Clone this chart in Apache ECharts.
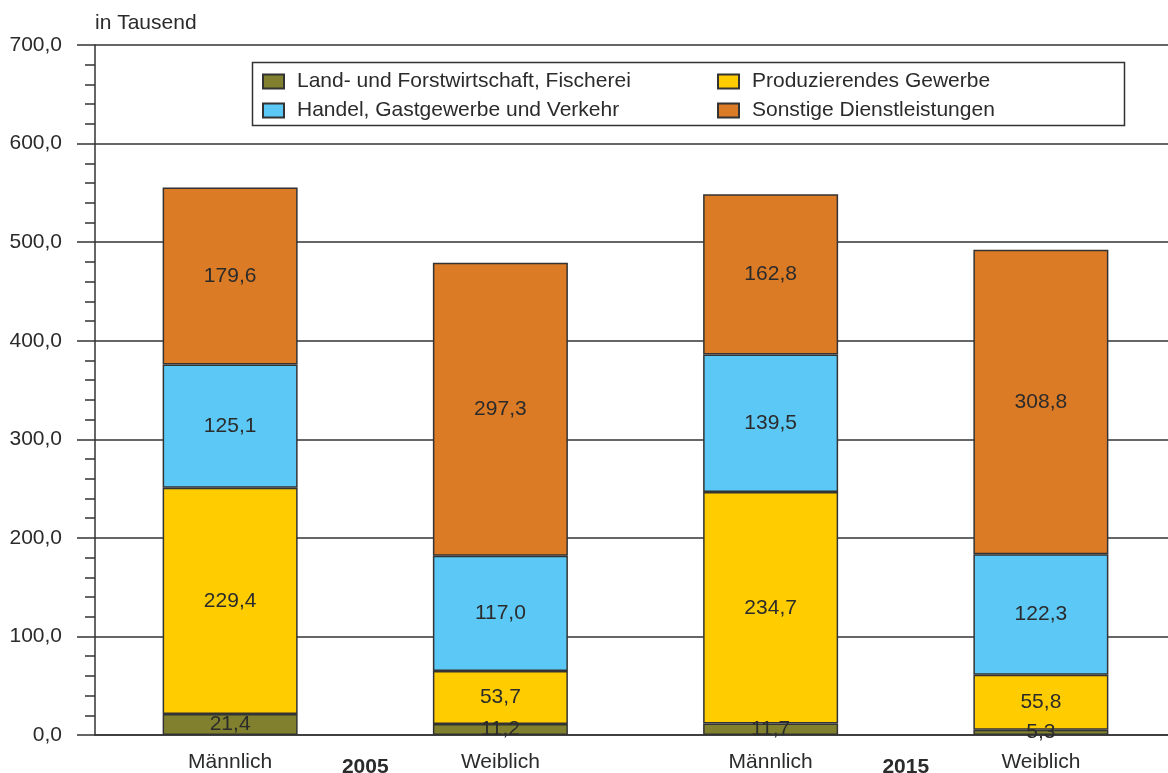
<!DOCTYPE html>
<html>
<head>
<meta charset="utf-8">
<script src="https://cdn.jsdelivr.net/npm/echarts@6/dist/echarts.min.js"></script>
<style>
  html, body { margin: 0; padding: 0; background: #fff; }
  #chart { width: 1168px; height: 773px; }
</style>
</head>
<body>
<div id="chart"></div>
<script>
// categories (bars) and years below
var categories = ['Männlich', 'Weiblich', 'Männlich', 'Weiblich'];
var years = ['2005', '2015'];
var yTicks = [0, 100, 200, 300, 400, 500, 600, 700];

// values in thousand, bottom to top
var landForst = [21.4, 11.2, 11.7, 5.3];
var produzierend = [229.4, 53.7, 234.7, 55.8];
var handel = [125.1, 117.0, 139.5, 122.3];
var sonstige = [179.6, 297.3, 162.8, 308.8];

var names = [
    'Land- und Forstwirtschaft, Fischerei',
    'Produzierendes Gewerbe',
    'Handel, Gastgewerbe und Verkehr',
    'Sonstige Dienstleistungen'
];
var colors = ['#80802f', '#ffcc00', '#5bc8f5', '#dc7b25'];
var values = [landForst, produzierend, handel, sonstige];

var font = '"Liberation Sans", Arial, sans-serif';
var txt = '#2b2b2b';
var fs = 21;

function fmt(v) {
    return v.toFixed(1).replace('.', ',');
}

var chart = echarts.init(document.getElementById('chart'));

var series = values.map(function (data, i) {
    return {
        name: names[i],
        type: 'bar',
        stack: 'total',
        barWidth: 135,
        data: data,
        itemStyle: {
            color: colors[i],
            borderColor: '#333',
            borderWidth: 1.5
        },
        label: {
            show: true,
            position: 'inside',
            color: txt,
            fontFamily: font,
            fontSize: fs,
            formatter: function (p) { return fmt(p.value); }
        },
        emphasis: { disabled: true }
    };
});

var legendCommon = {
    orient: 'vertical',
    top: 66,
    itemWidth: 21,
    itemHeight: 14,
    itemGap: 8,
    icon: 'rect',
    textStyle: { color: txt, fontFamily: font, fontSize: fs, padding: [0, 0, 0, 8] },
    selectedMode: false
};

option = {
    animation: false,
    backgroundColor: '#fff',
    grid: {
        left: 95,
        width: 1081,
        top: 45,
        bottom: 38,
        outerBoundsMode: 'none',
        containLabel: false
    },
    legend: [
        Object.assign({ left: 257, data: [names[0], names[2]] }, legendCommon),
        Object.assign({ left: 712, data: [names[1], names[3]] }, legendCommon)
    ],
    graphic: [{
        type: 'rect',
        left: 250,
        top: 60,
        shape: { width: 872, height: 63 },
        style: { fill: 'none', stroke: '#333', lineWidth: 1.5 },
        z: 100
    }],
    xAxis: [{
        type: 'category',
        data: categories,
        axisLine: { show: true, lineStyle: { color: '#333', width: 1.5 } },
        axisTick: { show: false },
        axisLabel: { color: txt, fontFamily: font, fontSize: fs, margin: 17 }
    }, {
        type: 'category',
        data: years,
        position: 'bottom',
        axisLine: { show: false },
        axisTick: { show: false },
        axisLabel: { color: txt, fontFamily: font, fontSize: fs, fontWeight: 'bold', margin: 22 }
    }],
    yAxis: {
        type: 'value',
        min: yTicks[0],
        max: yTicks[yTicks.length - 1],
        interval: 100,
        name: 'in Tausend',
        nameLocation: 'end',
        nameGap: 11,
        nameTextStyle: { color: txt, fontFamily: font, fontSize: fs, align: 'left' },
        axisLine: { show: true, lineStyle: { color: '#333', width: 1.5 } },
        axisTick: { show: true, inside: false, length: 18, lineStyle: { color: '#333', width: 1.5 } },
        minorTick: { show: true, splitNumber: 5, length: 10, lineStyle: { color: '#333', width: 1.5 } },
        splitLine: { show: true, lineStyle: { color: '#333', width: 1.5 } },
        axisLabel: {
            color: txt,
            fontFamily: font,
            fontSize: fs,
            margin: 33,
            formatter: function (v) { return fmt(v); }
        }
    },
    series: series
};

chart.setOption(option);
</script>
</body>
</html>
